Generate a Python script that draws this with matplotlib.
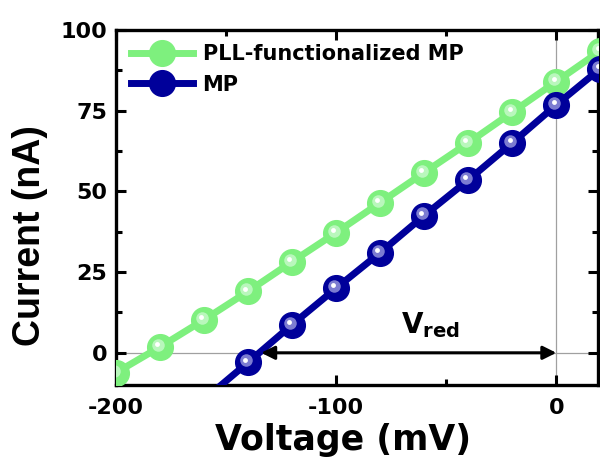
import matplotlib
matplotlib.use('Agg')
import matplotlib.pyplot as plt
import matplotlib.transforms as mtransforms

# Data
pll_voltage = [-200, -180, -160, -140, -120, -100, -80, -60, -40, -20, 0, 20]
pll_current = [-6.2, 1.8, 10.2, 19.0, 28.2, 37.2, 46.5, 55.8, 65.0, 74.5, 84.0, 93.5]
mp_voltage = [-160, -140, -120, -100, -80, -60, -40, -20, 0, 20]
mp_current = [-14.5, -3.0, 8.7, 20.0, 31.0, 42.5, 53.5, 65.0, 76.8, 88.0]

x_ticks = [-200, -100, 0]
y_ticks = [0, 25, 50, 75, 100]

# the reference looks horizontally stretched, DejaVu bold is wide enough to match
plt.rcParams['font.family'] = ['DejaVu Sans']
plt.rcParams['font.weight'] = 'bold'
plt.rcParams['axes.unicode_minus'] = False

green = '#7ef07e'
green_hi = '#c8facc'
navy = '#00009a'
navy_hi = '#9c9ce0'

fig = plt.figure(figsize=(6, 4.59), dpi=100)
ax = fig.add_axes([0.193, 0.161, 0.804, 0.774])

# thin reference lines
ax.axhline(0, color='#a0a0a0', lw=0.9, zorder=1)
ax.axvline(0, color='#a0a0a0', lw=0.9, zorder=1)


def ball_series(x, y, color, hi, label):
    ax.plot(x, y, '-o', color=color, lw=5.0, ms=18.5, mec=color, label=label, zorder=3)
    off = mtransforms.offset_copy(ax.transData, fig=fig, x=-1.5, y=1.5, units='points')
    ax.plot(x, y, 'o', color=hi, ms=9, mec='none', alpha=0.8, transform=off, zorder=4)
    off2 = mtransforms.offset_copy(ax.transData, fig=fig, x=-2.0, y=2.0, units='points')
    ax.plot(x, y, 'o', color='white', ms=3.5, mec='none', transform=off2, zorder=5)


ball_series(pll_voltage, pll_current, green, green_hi, 'PLL-functionalized MP')
ball_series(mp_voltage, mp_current, navy, navy_hi, 'MP')

# V_red arrow
ax.annotate('', xy=(0, 0), xytext=(-134, 0),
            arrowprops=dict(arrowstyle='<|-|>', color='black', lw=2.2,
                            mutation_scale=20, shrinkA=0, shrinkB=0), zorder=6)
ax.text(-57, 4.0, r'V$_{\mathbf{red}}$', fontsize=20, fontweight='bold',
        ha='center', va='bottom')

ax.set_xlim(-200, 19)
ax.set_ylim(-10, 100)
ax.set_xticks(x_ticks)
ax.set_yticks(y_ticks)
ax.set_xticks([-150, -50], minor=True)
ax.set_yticks([12.5, 37.5, 62.5, 87.5], minor=True)
ax.tick_params(which='both', direction='in', top=True, right=True, width=2.2)
ax.tick_params(which='major', length=7, labelsize=16, pad=6)
ax.tick_params(axis='x', which='major', pad=9)
ax.tick_params(which='minor', length=4)
for lbl in ax.get_xticklabels() + ax.get_yticklabels():
    lbl.set_fontweight('bold')
for sp in ax.spines.values():
    sp.set_linewidth(2.4)

ax.set_xlabel('Voltage (mV)', fontsize=25, fontweight='bold')
ax.set_ylabel('Current (nA)', fontsize=27, fontweight='bold',
              family=['Liberation Sans', 'DejaVu Sans'])
ax.xaxis.set_label_coords(0.471, -0.108)
ax.yaxis.set_label_coords(-0.14, 0.42)

leg = ax.legend(loc='upper left', bbox_to_anchor=(0.005, 0.995), frameon=False,
                fontsize=15, handlelength=3.0, borderaxespad=0.2,
                labelspacing=0.5, handletextpad=0.45)
for t in leg.get_texts():
    t.set_fontweight('bold')

fig.savefig('out.png', dpi=100)
